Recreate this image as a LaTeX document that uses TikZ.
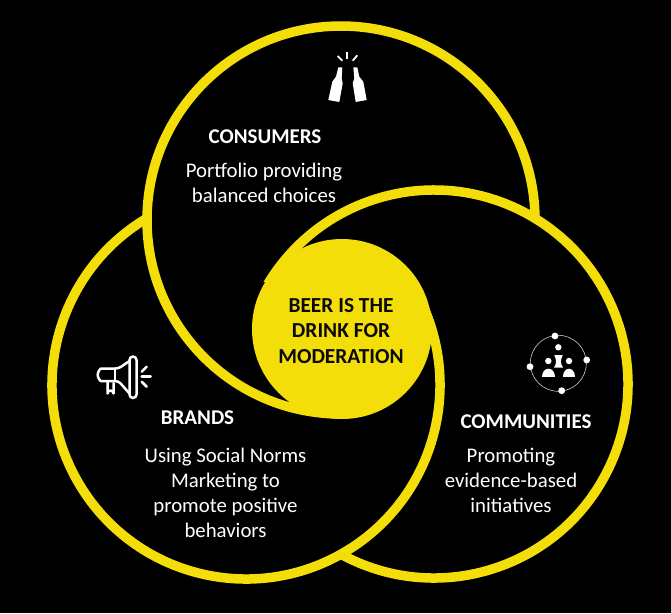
\documentclass[tikz,border=0pt]{standalone}
\usepackage{fontspec}
\setmainfont{Carlito}
\definecolor{beeryellow}{HTML}{F3DE0A}
\definecolor{inkblack}{HTML}{0A0A0A}
\tikzset{
  ring/.style={draw=beeryellow,line width=9.5pt},
  body/.style={text=white,font=\fontsize{20.8}{25}\selectfont,align=center,inner sep=0pt},
  head/.style={text=white,font=\fontsize{21}{24}\selectfont\bfseries,align=center,inner sep=0pt},
  core/.style={text=inkblack,font=\fontsize{21.4}{25.5}\selectfont\bfseries,align=center,inner sep=0pt},
  iconfill/.style={fill=white,draw=none},
  iconline/.style={draw=white,line width=2.5pt,line cap=round,line join=round},
  spark/.style={draw=white,line width=1.8pt},
}
\begin{document}
\begin{tikzpicture}[x=1pt,y=-1pt]
\path[fill=black,use as bounding box] (0,0) rectangle (671,613);
% spiral rings (y axis points down, so arcs are given in page coordinates)
\coordinate (T) at (341,220);
\coordinate (L) at (246,385);
\coordinate (R) at (434,384);
\coordinate (C) at (342,329);
\draw[ring] (T) ++(0.5:194 and -194) arc[start angle=0.5,end angle=270,x radius=194,y radius=-194];
\draw[ring] (L) ++(121:194 and -194) arc[start angle=121,end angle=390,x radius=194,y radius=-194];
\draw[ring] (R) ++(-118.5:194 and -194) arc[start angle=-118.5,end angle=149,x radius=194,y radius=-194];
\fill[beeryellow] (C) circle[radius=90];
% labels
\node[core] (coretext) at (341,331) {BEER IS THE\\DRINK FOR\\MODERATION};
\node[head] (consumers) at (265,137) {CONSUMERS};
\node[body] (consumersbody) at (264,182.5) {Portfolio providing\\balanced choices};
\node[head] (brands) at (197.5,418) {BRANDS};
\node[body] (brandsbody) at (225.5,492.5) {Using Social Norms\\Marketing to\\promote positive\\behaviors};
\node[head] (communities) at (526,421.5) {COMMUNITIES};
\node[body] (communitiesbody) at (511,480) {Promoting\\evidence-based\\initiatives};
% bottles icon
\fill[iconfill] (338.3,67.3) -- (342.3,67.3) -- (341.7,78.3) -- (342.7,83.3) -- (339.3,102) -- (328.3,100) -- (332.3,81.7) -- (336,76.7) -- cycle;
\fill[iconfill] (353.3,67.3) -- (357.3,67.3) -- (359.3,76.7) -- (363.3,81.7) -- (366.7,100) -- (355.7,102) -- (352.7,83.3) -- (354.3,78.3) -- cycle;
\draw[spark] (337.7,56) -- (342.3,60.7);
\draw[spark] (347.3,52) -- (347.3,59.3);
\draw[spark] (357.3,55.3) -- (352.7,60.7);
% megaphone icon
\draw[iconline,rounded corners=3.5pt] (129.5,356.5) rectangle (136.5,398);
\draw[iconline,rounded corners=3pt] (129.5,361) -- (118.5,368.5) -- (104,368.5) arc[start angle=-90,end angle=-270,radius=6.3] -- (118.5,381.1) -- (129.5,393.5);
\draw[iconline] (115,368.5) -- (115,381);
\draw[iconline] (107.5,381.5) -- (107.5,393.5) arc[start angle=180,end angle=0,x radius=3,y radius=-3] -- (113.5,383);
\draw[iconline] (141.7,371.7) -- (146.7,366.7);
\draw[iconline] (141.7,376.7) -- (150.7,376.7);
\draw[iconline] (141.7,381.7) -- (146.7,386.7);
% community icon
\draw[draw=white!80!black,line width=0.6pt] (558.3,363.3) circle[radius=28];
\foreach \p in {(555,336),(586.7,360),(561.7,390.7),(530,366.7)}
  \fill[iconfill] \p circle[radius=3.4];
\foreach \p in {(558.3,347.3),(548.3,361),(569,361)}
  \fill[iconfill] \p circle[radius=3.2];
\fill[iconfill] (554.3,355) -- (562.7,355) .. controls (560.3,361) and (560.3,363) .. (563,367.5) -- (554,367.5) .. controls (556.7,363) and (556.7,361) .. (554.3,355) -- cycle;
\fill[iconfill] (542.3,376.7) .. controls (542.3,365.5) and (555.2,365.5) .. (555.2,376.7) -- cycle;
\fill[iconfill] (562.7,376.7) .. controls (562.7,365.5) and (575.3,365.5) .. (575.3,376.7) -- cycle;
\end{tikzpicture}
\end{document}
